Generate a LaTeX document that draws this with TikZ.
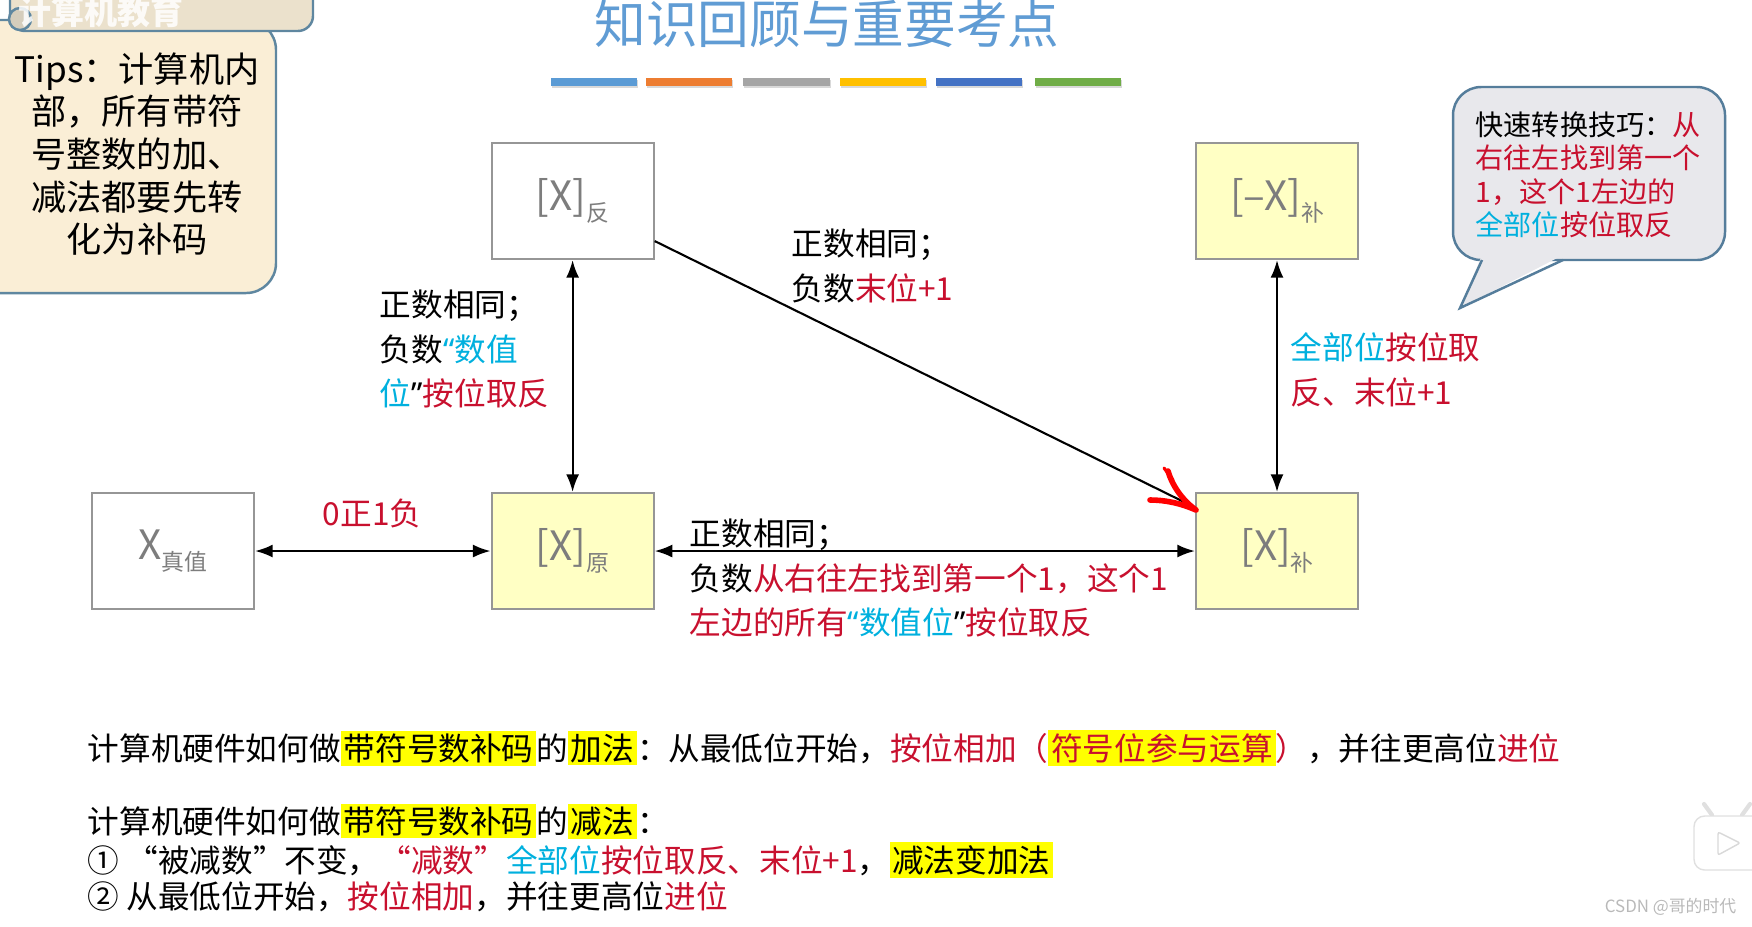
\documentclass[tikz,border=0pt]{standalone}
\usepackage{fontspec}
\setmainfont{Noto Sans CJK SC}
\newfontfamily\quotefont{Noto Sans}
\usetikzlibrary{arrows.meta,shadows}
\definecolor{ptred}{RGB}{200,16,46}
\definecolor{ptcyan}{RGB}{0,176,222}
\definecolor{boxyel}{RGB}{255,255,196}
\definecolor{boxgray}{RGB}{150,150,150}
\definecolor{labgray}{RGB}{125,125,125}
\definecolor{titblue}{RGB}{96,156,212}
\definecolor{hiyel}{RGB}{255,255,0}
\definecolor{scrollbg}{RGB}{250,238,214}
\definecolor{scrolledge}{RGB}{95,135,160}
\definecolor{bubblebg}{RGB}{232,232,236}
\definecolor{bubbleedge}{RGB}{85,125,155}
\definecolor{barblue}{RGB}{91,155,213}
\definecolor{barorange}{RGB}{237,125,49}
\definecolor{bargray}{RGB}{165,165,165}
\definecolor{baryellow}{RGB}{255,192,0}
\definecolor{bardark}{RGB}{68,114,196}
\definecolor{bargreen}{RGB}{112,173,71}
\newcommand\subidx[1]{\raisebox{-0.5ex}{\fontsize{6.5pt}{6.5pt}\selectfont #1}}
\newcommand\hili[1]{{\setlength\fboxsep{0.8pt}\colorbox{hiyel}{#1}}}
\newcommand\rd[1]{\textcolor{ptred}{#1}}
\newcommand\cy[1]{\textcolor{ptcyan}{#1}}
\newcommand\oq{{\quotefont “}}
\newcommand\cq{{\quotefont ”}}
\begin{document}
\begin{tikzpicture}[x=0.01cm, y=-0.01cm, >={Latex[length=5pt,width=3.7pt]},
    cbox/.style={draw=boxgray, line width=0.6pt, minimum width=1.62cm, minimum height=1.16cm, text=labgray, inner sep=0pt, font=\fontsize{11.5pt}{12pt}\selectfont},
    conn/.style={line width=0.6pt},
    lbl/.style={anchor=west, align=left, inner sep=0pt, font=\fontsize{9pt}{12.7pt}\selectfont},
    txtline/.style={anchor=west, inner sep=0pt, font=\fontsize{9pt}{11pt}\selectfont},
    bar/.style={fill=#1, drop shadow={shadow xshift=0.3pt, shadow yshift=-0.6pt, opacity=0.3}}]
  \useasboundingbox (0,0) rectangle (1752,926);
  \draw[scrolledge, line width=0.7pt, fill=scrollbg, rounded corners=8.5pt] (-20,20) -- (276,20) -- (276,293) -- (-20,293);
  \draw[scrolledge, line width=0.7pt, fill=scrollbg!88!gray, rounded corners=4.3pt] (10,-20) rectangle (313,31);
  \draw[scrolledge, line width=0.7pt, fill=scrollbg!70!gray] (20,19) circle (11);
  \node[white, opacity=0.85, anchor=west, inner sep=0pt, font=\bfseries\fontsize{9.4pt}{10pt}\selectfont] (wm) at (18,12) {计算机教育};
  \node[align=center, inner sep=0pt, font=\fontsize{10pt}{12.15pt}\selectfont] (tips) at (137,154) {Tips：计算机内\\部，所有带符\\号整数的加、\\减法都要先转\\化为补码};
  \node[titblue, font=\fontsize{14.7pt}{15pt}\selectfont] (title) at (827,24) {知识回顾与重要考点};
  \path[bar=barblue] (551,78) rectangle (637,86);
  \path[bar=barorange] (646,78) rectangle (732,86);
  \path[bar=bargray] (743,78) rectangle (830,86);
  \path[bar=baryellow] (840,78) rectangle (926,86);
  \path[bar=bardark] (936,78) rectangle (1022,86);
  \path[bar=bargreen] (1035,78) rectangle (1121,86);
  \node[cbox, fill=white] (xfan) at (572.6,201) {[X]\subidx{反}};
  \node[cbox, fill=boxyel] (nxbu) at (1277,201) {[\textendash X]\subidx{补}};
  \node[cbox, fill=white] (xzhen) at (173,551) {X\subidx{真值}};
  \node[cbox, fill=boxyel] (xyuan) at (572.6,551) {[X]\subidx{原}};
  \node[cbox, fill=boxyel] (xbu) at (1277,551) {[X]\subidx{补}};
  \draw[conn,<->] (xfan) -- (xyuan);
  \draw[conn,<->] (nxbu) -- (xbu);
  \draw[conn,<->] (xzhen) -- (xyuan);
  \draw[conn,<->] (xyuan) -- (xbu);
  \draw[conn] (xfan.-26) -- (xbu.152);
  \draw[red, line width=1.6pt, line cap=round, line join=round] (1168,471) .. controls (1172,485) and (1182,500) .. (1196,510) .. controls (1180,503) and (1165,500) .. (1150,500);
  \draw[red, line width=0.9pt, line cap=round] (1164,468) -- (1173,480);
  \node[lbl] (lblfan) at (379,349) {正数相同；\\负数\cy{\oq 数值}\\\cy{位}\cq\rd{按位取反}};
  \node[lbl] (lbldiag) at (791,266) {正数相同；\\负数\rd{末位+1}};
  \node[lbl] (lblneg) at (1290,370) {\cy{全部位}\rd{按位取}\\\rd{反、末位+1}};
  \node[lbl] (lblbu) at (689,578) {正数相同；\\负数\rd{从右往左找到第一个1，这个1}\\\rd{左边的所有}\cy{\oq 数值位}\cq\rd{按位取反}};
  \node[lbl, anchor=center] (lblsign) at (372,513) {\rd{0正1负}};
  \draw[bubbleedge, line width=0.7pt, fill=bubblebg, rounded corners=8pt] (1453,87) rectangle (1725,260);
  \fill[bubblebg] (1482,255) -- (1460,308) -- (1563,255) -- cycle;
  \draw[bubbleedge, line width=0.7pt] (1482,260) -- (1460,308) -- (1563,260);
  \node[anchor=west, align=left, inner sep=0pt, font=\fontsize{8pt}{9.5pt}\selectfont] (tiptext) at (1475,175) {快速转换技巧：\rd{从}\\\rd{右往左找到第一个}\\\rd{1，这个1左边的}\\\cy{全部位}\rd{按位取反}};
  \node[txtline] (addline) at (87,748) {计算机硬件如何做\hili{带符号数补码}的\hili{加法}：从最低位开始，\rd{按位相加（}\hili{\rd{符号位参与运算}}\rd{）}，并往更高位\rd{进位}};
  \node[txtline] (subline) at (87,821) {计算机硬件如何做\hili{带符号数补码}的\hili{减法}：};
  \node[txtline] (stepone) at (87,860) {① “被减数”不变，\rd{“减数”}\cy{全部位}\rd{按位取反、末位+1}，\hili{减法变加法}};
  \node[txtline] (steptwo) at (87,897) {② 从最低位开始，\rd{按位相加}，并往更高位\rd{进位}};
  \draw[black!12, line width=1.2pt, line cap=round] (1712,815) -- (1704,804) (1742,815) -- (1750,804);
  \draw[black!12, fill=white, rounded corners=3pt] (1694,816) rectangle (1775,870);
  \draw[black!15, fill=white, rounded corners=0.6pt] (1718,832) -- (1740,843) -- (1718,855) -- cycle;
  \node[gray!55, anchor=east, inner sep=0pt, font=\fontsize{4.8pt}{5pt}\selectfont] (csdn) at (1737,907) {CSDN @哥的时代};
\end{tikzpicture}
\end{document}
